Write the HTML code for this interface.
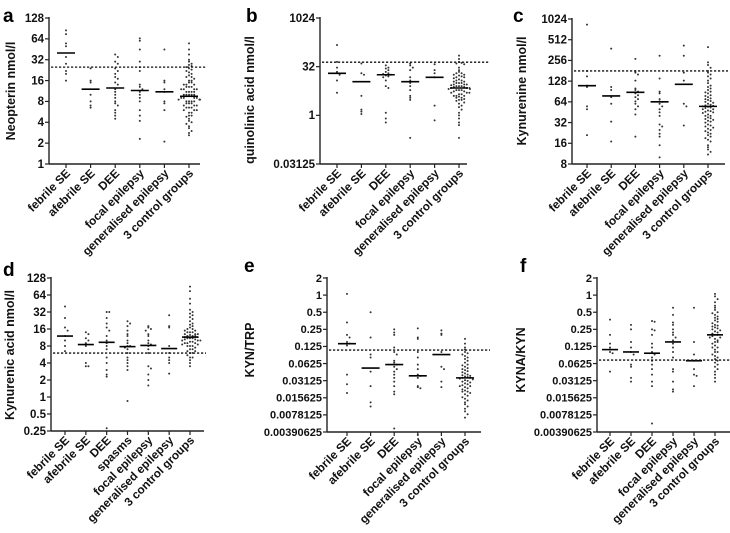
<!DOCTYPE html>
<html><head><meta charset="utf-8"><style>
html,body{margin:0;padding:0;background:#fff}
svg{display:block;font-family:"Liberation Sans",Arial,sans-serif}
</style></head><body>
<svg id="fig" width="730" height="533" viewBox="0 0 730 533" xmlns="http://www.w3.org/2000/svg"></svg>
<script>
const cats6 = ["febrile SE","afebrile SE","DEE","focal epilepsy","generalised epilepsy","3 control groups"];
const cats7 = ["febrile SE","afebrile SE","DEE","spasms","focal epilepsy","generalised epilepsy","3 control groups"];

const ticksA = [1,2,4,8,16,32,64,128];
const ticksB = [0.03125,1,32,1024];
const ticksC = [8,16,32,64,128,256,512,1024];
const ticksD = [0.25,0.5,1,2,4,8,16,32,64,128];
const ticksE = [0.00390625,0.0078125,0.015625,0.03125,0.0625,0.125,0.25,0.5,1,2];
const ticksF = [0.00390625,0.0078125,0.015625,0.03125,0.0625,0.125,0.25,0.5,1,2];

const refA = 25, refB = 44, refC = 180, refD = 6.0, refE = 0.108, refF = 0.072;

const mediansA = [40,12,12.5,11.5,11,9.5];
const mediansB = [20,11,18,11,15,7];
const mediansC = [110,78,88,64,115,55];
const mediansD = [12,8.5,9.3,7.8,8.2,7.2,11.5];
const mediansE = [0.14,0.052,0.06,0.038,0.09,0.035];
const mediansF = [0.11,0.1,0.095,0.15,0.07,0.2];

const valsA = [
 [85,75,55,50,35,28,22,20,16],
 [24,16,15,10,8,7,6.5],
 [38,35,30,28,24,22,20,18,17,15,14,12,11,10,9,8,7.5,7,6,5.5,5,4.5],
 [65,60,45,30,25,22,14,13,12,11,10,9,8,6,5,4.2,2.3],
 [45,16,15,12,11,8,7.5,6,2.1],
 [55,45,38,32,30,28,27,26,25,24,23,22,21,20,19,18,18,17,16,16,15,15,14,14,14,13,13,13,12,12,12,12,11,11,11,11,10,10,10,10,10,9.5,9.5,9.5,9,9,9,9,8.5,8.5,8.5,8,8,8,8,7.5,7.5,7.5,7,7,7,6.5,6.5,6.5,6,6,6,5.5,5.5,5,5,4.8,4.5,4.2,4,3.8,3.5,3.3,3,2.8,2.6]
];
const valsB = [
 [150,45,30,22,18,12,5],
 [40,20,18,4,1.5,1.1,1.3],
 [35,30,28,25,22,20,19,18,17,16,15,12,8,7,1.2,0.8,0.6],
 [40,35,30,25,15,12,10,8,6,4,3.5,3,0.2],
 [38,25,20,15,2,0.7],
 [70,55,45,42,40,38,30,25,22,20,20,18,18,17,16,15,15,14,13,12,12,11,11,10,10,10,9,9,9,8.5,8,8,8,7.5,7.5,7,7,7,6.5,6.5,6,6,6,5.5,5.5,5,5,5,4.5,4.5,4,4,4,3.8,3.5,3.5,3.2,3,3,2.8,2.5,2.3,2,1.8,1.5,1.2,1,0.8,0.6,0.5,0.2]
];
const valsC = [
 [850,180,150,110,105,55,50,21],
 [380,105,95,75,60,33,17],
 [270,180,170,160,130,100,95,90,85,80,75,70,65,60,55,50,42,20],
 [300,140,90,85,70,65,64,60,55,50,45,40,30,28,25,22,20,15,10],
 [420,300,170,130,60,55,29],
 [400,240,220,200,180,170,160,150,140,130,120,110,105,100,95,90,88,85,80,78,75,72,70,68,66,64,62,60,58,57,56,55,54,53,52,50,50,48,47,46,45,44,42,40,40,38,37,36,35,34,33,32,30,29,28,27,26,25,24,23,22,21,20,19,18,17,15,14,13,12,11]
];
const valsD = [
 [40,25,17,15,12,10,8,6.5],
 [14,13,11,10,9,8,4,3.5,3.5],
 [32,32,25,20,17,15,12,10,9,8,7,5,4,3,2.5,2.3,0.28],
 [22,20,18,15,13,12,10,9,8,8,7.5,7,6,5,4.5,4,3.5,3,0.85],
 [18,17,16,15,13,12,10,9,8.5,8,7,6,3.5,3.2,2.5,2,1.6],
 [28,18,17,8,6,5,4.5,4,2.6],
 [90,75,55,45,35,32,30,28,26,24,22,20,19,18,17,16,16,15,15,14,14,14,13,13,13,12.5,12,12,12,11.5,11.5,11,11,11,10.5,10.5,10,10,10,9.5,9.5,9,9,9,8.5,8.5,8,8,8,7.5,7,7,6.5,6.5,6,6,5.5,5,5,4.5,4,3.5]
];
const valsE = [
 [1.05,0.33,0.2,0.18,0.15,0.14,0.13,0.04,0.027,0.019],
 [0.5,0.18,0.09,0.08,0.045,0.025,0.013,0.011],
 [0.25,0.22,0.2,0.12,0.1,0.09,0.07,0.065,0.06,0.055,0.05,0.045,0.04,0.035,0.03,0.025,0.02,0.018,0.0045],
 [0.26,0.18,0.17,0.1,0.08,0.06,0.05,0.04,0.038,0.035,0.025,0.024,0.023,0.0035],
 [0.24,0.21,0.2,0.1,0.055,0.05,0.03,0.024],
 [0.17,0.14,0.12,0.11,0.1,0.095,0.09,0.085,0.08,0.075,0.07,0.065,0.06,0.058,0.055,0.052,0.05,0.048,0.046,0.044,0.042,0.04,0.039,0.038,0.037,0.036,0.035,0.035,0.034,0.033,0.032,0.031,0.03,0.029,0.028,0.027,0.026,0.025,0.025,0.024,0.023,0.022,0.021,0.02,0.02,0.019,0.018,0.017,0.016,0.015,0.014,0.013,0.012,0.011,0.01,0.009,0.008,0.007]
];
const valsF = [
 [0.37,0.2,0.14,0.12,0.11,0.1,0.095,0.045],
 [0.3,0.25,0.15,0.12,0.1,0.09,0.06,0.055,0.035,0.03],
 [0.35,0.34,0.25,0.24,0.2,0.14,0.12,0.1,0.09,0.08,0.07,0.06,0.05,0.04,0.03,0.025,0.0055],
 [0.6,0.45,0.33,0.3,0.25,0.22,0.2,0.18,0.16,0.14,0.12,0.1,0.08,0.05,0.045,0.03,0.022,0.02],
 [0.6,0.15,0.09,0.07,0.05,0.04,0.038,0.025],
 [1.05,0.95,0.85,0.75,0.65,0.6,0.55,0.5,0.48,0.45,0.42,0.4,0.38,0.36,0.34,0.32,0.3,0.29,0.28,0.27,0.26,0.25,0.24,0.23,0.22,0.21,0.2,0.2,0.19,0.18,0.18,0.17,0.16,0.15,0.15,0.14,0.13,0.12,0.12,0.11,0.1,0.1,0.09,0.085,0.08,0.075,0.07,0.065,0.06,0.055,0.05,0.045,0.04,0.035,0.03]
];

const NS = "http://www.w3.org/2000/svg";
const svg = document.getElementById("fig");
function mk(tag, attrs, parent, text){
  const e = document.createElementNS(NS, tag);
  for (const k in attrs) e.setAttribute(k, attrs[k]);
  if (text !== undefined) e.textContent = text;
  (parent||svg).appendChild(e);
  return e;
}
function fmt(v){ return String(v); }

function panel(p){
  const g = mk("g", {});
  
  
  const lmin = Math.log2(p.ticks[0]), lmax = Math.log2(p.ticks[p.ticks.length-1]);
  const y = v => p.y1 - (Math.log2(v) - lmin) / (lmax - lmin) * (p.y1 - p.y0);
  const n = p.cats.length;
  const x = i => p.cx0 + i * (p.cx1 - p.cx0) / (n - 1);

  const lt = mk("text", {x:p.lx, y:p.ly, "font-size":19, "font-weight":"bold", fill:"#000"}, g, p.letter);
  
  

  const ya = mk("line", {x1:p.ax, y1:p.y0-1, x2:p.ax, y2:p.y1, stroke:"#222", "stroke-width":1.4}, g);
  
  
  const xa = mk("line", {x1:p.ax, y1:p.y1, x2:p.axEnd, y2:p.y1, stroke:"#222", "stroke-width":1.4}, g);
  
  

  p.ticks.forEach(t => {
    const yy = y(t);
    mk("line", {x1:p.ax-4, y1:yy, x2:p.ax, y2:yy, stroke:"#222", "stroke-width":1.2}, g);
    const tl = mk("text", {x:p.ax-5, y:yy+3.8, "font-size":p.tickFs, "font-weight":"bold", "text-anchor":"end", fill:"#111"}, g, fmt(t));
    
    
  });

  const yt = mk("text", {x:0, y:0, "font-size":12.5, "font-weight":"bold", "text-anchor":"middle", fill:"#111",
    transform:"translate("+p.tx+","+p.ty+") rotate(-90)"}, g, p.title);
  
  

  p.cats.forEach((c, i) => {
    const xx = x(i);
    mk("line", {x1:xx, y1:p.y1, x2:xx, y2:p.y1+4, stroke:"#222", "stroke-width":1.2}, g);
    const cl = mk("text", {x:0, y:0, "font-size":11.8, "font-weight":"bold", "text-anchor":"end", fill:"#111",
      transform:"translate("+(xx+5)+","+(p.y1+10)+") rotate(-45)"}, g, c);
    
    
  });

  p.vals.forEach((arr, i) => {
    const bins = {};
    arr.forEach(v => {
      const yy = y(v);
      const b = Math.round(yy / 3.5);
      const k = bins[b] = (bins[b] || 0) + 1;
      const off = (k === 1 ? 0 : (k % 2 ? -1 : 1) * Math.floor(k / 2) * 2.6);
      const pt = mk("circle", {cx:x(i) + Math.max(-11, Math.min(11, off)), cy:yy, r:1.0, fill:"#333"}, g);
      
      
    });
  });
  p.medians.forEach((m, i) => {
    const ml = mk("line", {x1:x(i)-p.mw, y1:y(m), x2:x(i)+p.mw, y2:y(m), stroke:"#000", "stroke-width":1.6}, g);
    
    
  });

  const rl = mk("line", {x1:p.ax+2, y1:y(p.ref), x2:p.refEnd, y2:y(p.ref), stroke:"#111", "stroke-width":1.3, "stroke-dasharray":"2.2,1.8"}, g);
  
  
}

panel({letter:"a", lx:3, ly:22, ax:49, axEnd:200, y0:18, y1:164, cx0:66, cx1:189, ticks:ticksA, tickFs:11.5,
  cats:cats6, vals:valsA, medians:mediansA, ref:refA, refEnd:207, mw:9, title:"Neopterin nmol/l", tx:15, ty:91});
panel({letter:"b", lx:246, ly:22, ax:320, axEnd:467, y0:18, y1:164, cx0:337, cx1:459, ticks:ticksB, tickFs:11.5,
  cats:cats6, vals:valsB, medians:mediansB, ref:refB, refEnd:489, mw:9, title:"quinolinic acid nmol/l", tx:254, ty:100});
panel({letter:"c", lx:513, ly:22, ax:572, axEnd:725, y0:19, y1:164, cx0:587, cx1:708, ticks:ticksC, tickFs:11.5,
  cats:cats6, vals:valsC, medians:mediansC, ref:refC, refEnd:728, mw:9, title:"Kynurenine nmol/l", tx:526, ty:91});
panel({letter:"d", lx:3, ly:276, ax:51, axEnd:204, y0:278, y1:431, cx0:65, cx1:190, ticks:ticksD, tickFs:11.5,
  cats:cats7, vals:valsD, medians:mediansD, ref:refD, refEnd:206, mw:8, title:"Kynurenic acid nmol/l", tx:14, ty:355});
panel({letter:"e", lx:244, ly:272, ax:327, axEnd:481, y0:278, y1:432, cx0:347, cx1:465, ticks:ticksE, tickFs:11,
  cats:cats6, vals:valsE, medians:mediansE, ref:refE, refEnd:490, mw:9, title:"KYN/TRP", tx:254, ty:350});
panel({letter:"f", lx:520, ly:272, ax:597, axEnd:730, y0:278, y1:432, cx0:610, cx1:715, ticks:ticksF, tickFs:11,
  cats:cats6, vals:valsF, medians:mediansF, ref:refF, refEnd:730, mw:8, title:"KYNA/KYN", tx:525, ty:360});
</script>
</body></html>
